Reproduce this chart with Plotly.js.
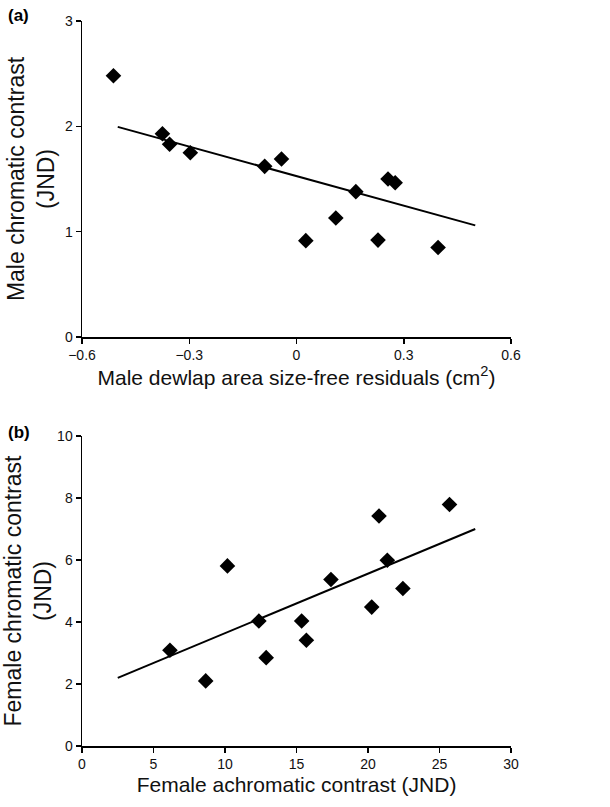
<!DOCTYPE html>
<html>
<head>
<meta charset="utf-8">
<script src="https://cdn.plot.ly/plotly-3.0.1.min.js"></script>
<style>html,body{margin:0;padding:0;background:#fff;}#chart{width:610px;height:807px;}</style>
</head>
<body>
<div id="chart"></div>
<script>
// Panel (a): male
const maleDewlapResid = [-0.512, -0.375, -0.355, -0.297, -0.089, -0.042, 0.026, 0.110, 0.166, 0.228, 0.256, 0.276, 0.396];
const maleChromatic   = [2.48, 1.93, 1.83, 1.75, 1.62, 1.69, 0.915, 1.13, 1.38, 0.92, 1.50, 1.465, 0.85];
const maleFitX = [-0.5, 0.5];
const maleFitY = [1.995, 1.06];

// Panel (b): female
const femaleAchromatic = [6.15, 8.65, 10.17, 12.37, 12.88, 15.36, 15.69, 17.41, 20.26, 20.77, 21.35, 22.44, 25.70];
const femaleChromatic  = [3.09, 2.10, 5.81, 4.03, 2.85, 4.03, 3.41, 5.37, 4.48, 7.42, 5.99, 5.08, 7.79];
const femaleFitX = [2.5, 27.5];
const femaleFitY = [2.2, 7.0];

const xTicksA = [-0.6, -0.3, 0, 0.3, 0.6];
const xTickTextA = ['\u22120.6', '\u22120.3', '0', '0.3', '0.6'];
const yTicksA = [0, 1, 2, 3];
const xTicksB = [0, 5, 10, 15, 20, 25, 30];
const yTicksB = [0, 2, 4, 6, 8, 10];

const xTitleFont = {family: 'Liberation Sans, Arial, sans-serif', size: 21, color: '#111'};
const yTitleFont = {family: 'Liberation Sans, Arial, sans-serif', size: 23, color: '#111'};
const tickFont = {family: 'Liberation Sans, Arial, sans-serif', size: 14, color: '#111'};
const panelFont = {family: 'Liberation Sans, Arial, sans-serif', size: 17, color: '#000'};

const marker = {symbol: 'diamond', size: 12, color: '#000'};
const lineStyle = {color: '#000', width: 2};

const traces = [
  {x: maleFitX, y: maleFitY, mode: 'lines', line: lineStyle, xaxis: 'x', yaxis: 'y', hoverinfo: 'skip'},
  {x: maleDewlapResid, y: maleChromatic, mode: 'markers', marker: marker, xaxis: 'x', yaxis: 'y'},
  {x: femaleFitX, y: femaleFitY, mode: 'lines', line: lineStyle, xaxis: 'x2', yaxis: 'y2', hoverinfo: 'skip'},
  {x: femaleAchromatic, y: femaleChromatic, mode: 'markers', marker: marker, xaxis: 'x2', yaxis: 'y2'}
];

const axisCommon = {
  showgrid: false, zeroline: false, showline: true, linecolor: '#000', linewidth: 1.5,
  ticks: 'outside', ticklen: 5, tickwidth: 1.5, tickcolor: '#000', tickfont: tickFont, mirror: false
};

const layout = {
  width: 610, height: 807,
  margin: {l: 82, r: 99, t: 21, b: 61},
  paper_bgcolor: '#fff', plot_bgcolor: '#fff',
  showlegend: false,
  xaxis: Object.assign({}, axisCommon, {
    domain: [0, 1], anchor: 'y', range: [-0.6, 0.6],
    tickvals: xTicksA, ticktext: xTickTextA,
    title: {text: 'Male dewlap area size-free residuals (cm<sup>2</sup>)', font: xTitleFont, standoff: 4}
  }),
  yaxis: Object.assign({}, axisCommon, {
    domain: [0.5641, 1], anchor: 'x', range: [0, 3], tickvals: yTicksA,
    title: {text: 'Male chromatic contrast<br>(JND)', font: yTitleFont, standoff: 4}
  }),
  xaxis2: Object.assign({}, axisCommon, {
    domain: [0, 1.0047], anchor: 'y2', range: [0, 30], tickvals: xTicksB,
    title: {text: 'Female achromatic contrast (JND)', font: xTitleFont, standoff: 6}
  }),
  yaxis2: Object.assign({}, axisCommon, {
    domain: [0, 0.4276], anchor: 'x2', range: [0, 10], tickvals: yTicksB,
    title: {text: 'Female chromatic contrast<br>(JND)', font: yTitleFont, standoff: 4}
  }),
  annotations: [
    {text: '<b>(a)</b>', xref: 'paper', yref: 'paper', x: -0.178, y: 1.007, xanchor: 'left', yanchor: 'middle', showarrow: false, font: panelFont},
    {text: '<b>(b)</b>', xref: 'paper', yref: 'paper', x: -0.178, y: 0.433, xanchor: 'left', yanchor: 'middle', showarrow: false, font: panelFont}
  ]
};

Plotly.newPlot('chart', traces, layout, {displayModeBar: false, staticPlot: true});
</script>
</body>
</html>
